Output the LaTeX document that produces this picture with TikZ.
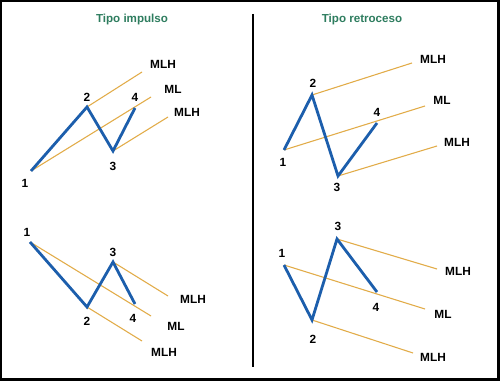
\documentclass[tikz,border=0pt]{standalone}
\usepackage{fontspec}
\setmainfont{Liberation Sans}
\definecolor{wblue}{RGB}{28,94,172}
\definecolor{wgold}{RGB}{226,172,72}
\definecolor{tgreen}{RGB}{46,125,95}

\begin{document}
\begin{tikzpicture}[x=0.75pt,y=-0.75pt,
  wave/.style={wblue,line width=2.1pt,line join=miter},
  mline/.style={wgold,line width=0.8pt},
  lbl/.style={font=\fontsize{8.9}{10}\selectfont\bfseries,inner sep=0pt},
  ttl/.style={font=\fontsize{8.7}{10}\selectfont\bfseries,text=tgreen,inner sep=0pt}]
% frame
\fill[black] (0,0) rectangle (500,381);
\fill[white] (2,2) rectangle (497,378);
\useasboundingbox (0,0) rectangle (500,381);
\draw[line width=1.6pt] (253,14) -- (253,367); % divider

\node[ttl] (t1) at (132,20) {Tipo impulso};
\node[ttl] (t2) at (362,20) {Tipo retroceso};

% top left: impulso up
\coordinate (a1) at (31,171);
\coordinate (a2) at (87,107);
\coordinate (a3) at (113,151);
\coordinate (a4) at (135,108);
\coordinate (am) at (151,97);
\coordinate (au) at (142,72);
\coordinate (ad) at (168,117);
\draw[mline] (a1) -- (am);
\draw[mline] (a2) -- (au);
\draw[mline] (a3) -- (ad);
\draw[wave] (a1) -- (a2) -- (a3) -- (a4);
\node[lbl] (a1l) at (25,183) {1};
\node[lbl] (a2l) at (87,97) {2};
\node[lbl] (a3l) at (113,166) {3};
\node[lbl] (a4l) at (135,97) {4};
\node[lbl] (aml) at (173,89) {ML};
\node[lbl] (aul) at (163,64) {MLH};
\node[lbl] (adl) at (187,112) {MLH};

% top right: retroceso up
\coordinate (b1) at (284,150);
\coordinate (b2) at (312,95);
\coordinate (b3) at (338,176);
\coordinate (b4) at (377,123);
\coordinate (bm) at (425,106);
\coordinate (bu) at (412,63);
\coordinate (bd) at (437,146);
\draw[mline] (b1) -- (bm);
\draw[mline] (b2) -- (bu);
\draw[mline] (b3) -- (bd);
\draw[wave] (b1) -- (b2) -- (b3) -- (b4);
\node[lbl] (b1l) at (283,162) {1};
\node[lbl] (b2l) at (313,83) {2};
\node[lbl] (b3l) at (337,187) {3};
\node[lbl] (b4l) at (377,112) {4};
\node[lbl] (bml) at (442,100) {ML};
\node[lbl] (bul) at (433,59) {MLH};
\node[lbl] (bdl) at (457,142) {MLH};

% bottom left: impulso down
\coordinate (c1) at (30,242);
\coordinate (c2) at (87,307);
\coordinate (c3) at (113,262);
\coordinate (c4) at (135,304);
\coordinate (cm) at (151,316);
\coordinate (cu) at (168,296);
\coordinate (cd) at (142,341);
\draw[mline] (c1) -- (cm);
\draw[mline] (c3) -- (cu);
\draw[mline] (c2) -- (cd);
\draw[wave] (c1) -- (c2) -- (c3) -- (c4);
\node[lbl] (c1l) at (27,232) {1};
\node[lbl] (c2l) at (87,321) {2};
\node[lbl] (c3l) at (113,252) {3};
\node[lbl] (c4l) at (133,318) {4};
\node[lbl] (cml) at (176,326) {ML};
\node[lbl] (cul) at (193,299) {MLH};
\node[lbl] (cdl) at (164,352) {MLH};

% bottom right: retroceso down
\coordinate (d1) at (284,265);
\coordinate (d2) at (312,320);
\coordinate (d3) at (337,239);
\coordinate (d4) at (377,292);
\coordinate (dm) at (425,309);
\coordinate (du) at (437,269);
\coordinate (dd) at (413,353);
\draw[mline] (d1) -- (dm);
\draw[mline] (d3) -- (du);
\draw[mline] (d2) -- (dd);
\draw[wave] (d1) -- (d2) -- (d3) -- (d4);
\node[lbl] (d1l) at (282,253) {1};
\node[lbl] (d2l) at (313,339) {2};
\node[lbl] (d3l) at (338,226) {3};
\node[lbl] (d4l) at (376,307) {4};
\node[lbl] (dml) at (443,314) {ML};
\node[lbl] (dul) at (458,271) {MLH};
\node[lbl] (ddl) at (433,357) {MLH};
\end{tikzpicture}
\end{document}
